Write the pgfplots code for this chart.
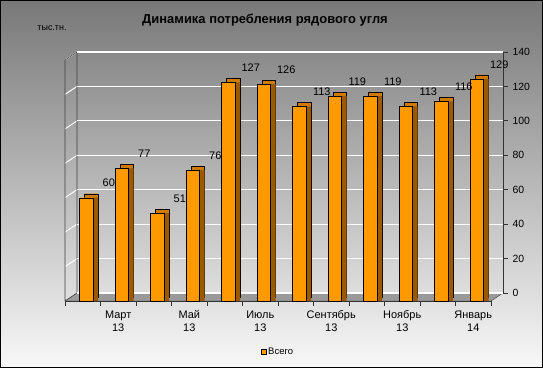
\documentclass[border=0pt]{standalone}
\usepackage{pgfplots}
\pgfplotsset{compat=1.18}
\usepackage{pgfplotstable}
\usepackage{fontspec}
\setmainfont{Liberation Sans}
\definecolor{barfront}{HTML}{FF9900}
\definecolor{barside}{HTML}{9C5A00}
\definecolor{bartop}{HTML}{CC7A00}
\definecolor{bgtop}{HTML}{787878}
\definecolor{bgbot}{HTML}{F8F8F8}
\definecolor{floorc}{HTML}{9A9A9A}

\pgfplotstableread{
x v
1 60
2 77
3 51
4 76
5 127
6 126
7 113
8 119
9 119
10 113
11 116
12 129
}\data

\begin{document}
\begin{tikzpicture}
\shade[top color=bgtop, bottom color=bgbot] (0bp,0bp) rectangle (543bp,368bp);
% floor
\fill[floorc] (65bp,67bp) -- (491bp,67bp) -- (503bp,75bp) -- (77bp,75bp) -- cycle;
\draw[black!70, line width=0.5pt] (65bp,67bp) -- (491bp,67bp) -- (503bp,75bp);
% left wall
\foreach \v in {20,40,...,140} {
  \pgfmathsetmacro{\ya}{67+1.7214*\v}
  \pgfmathsetmacro{\yb}{75+1.7214*\v}
  \draw[white, line width=1pt] (65bp,\ya bp) -- (77bp,\yb bp);
}
\draw[black!75, line width=0.6pt] (65bp,67bp) -- (65bp,308bp) -- (77bp,316bp) -- (77bp,75bp) -- (65bp,67bp);

\begin{axis}[
  at={(77bp,75bp)}, anchor=south west, scale only axis,
  width=426bp, height=241bp,
  xmin=0.5, xmax=12.5, ymin=0, ymax=140,
  axis x line=none, axis y line*=right,
  ytick={0,20,...,140},
  ymajorgrids, grid style={white, line width=1.1pt},
  y axis line style={black!80, line width=0.8pt},
  tick align=outside, major tick length=5bp,
  ytick style={black!80, line width=0.8pt},
  yticklabel style={font=\fontsize{10.5}{12}\selectfont, xshift=1bp},
  /pgf/number format/assume math mode=true,
]
\addplot[draw=none, forget plot] coordinates {(1,0)};
\end{axis}

\begin{axis}[
  at={(65bp,67bp)}, anchor=south west, scale only axis,
  width=426bp, height=241bp,
  xmin=0.5, xmax=12.5, ymin=0, ymax=140,
  axis y line=none, axis x line*=bottom,
  x axis line style={black!80, line width=0.6pt, -},
  xtick={1,...,12},
  xticklabels={,{Март\\13},,{Май\\13},,{Июль\\13},,{Сентябрь\\13},,{Ноябрь\\13},,{Январь\\14}},
  xticklabel style={align=center, font=\fontsize{11}{13}\selectfont, yshift=-6bp},
  major tick length=0pt,
  minor xtick={0.5,1.5,...,12.5},
  minor tick length=5bp, tick align=outside,
  minor tick style={black!80, line width=0.6pt},
  legend style={at={(0.5,-0.212)}, anchor=center, draw=none, fill=none,
    font=\fontsize{9.5}{11}\selectfont, inner sep=1bp},
  legend image code/.code={\draw[fill=barfront, draw=black, line width=0.3pt] (0bp,-2.5bp) rectangle (5bp,2.5bp);},
  /pgf/number format/assume math mode=true,
  clip=false,
]
\addplot[ybar, bar width=13.5bp, bar shift=8.5bp, fill=bartop, draw=black, line width=0.4pt, yshift=4bp, forget plot] table[x=x,y=v] {\data};
\addplot[ybar, bar width=13.5bp, bar shift=8.5bp, fill=barside, draw=none, forget plot] table[x=x,y=v] {\data};
\addplot[ybar, bar width=13.5bp, bar shift=3.5bp, fill=barfront, draw=black, line width=0.4pt] table[x=x,y=v] {\data};
\addlegendentry{Всего}
\addplot[draw=none, mark=none, nodes near coords, point meta=y, forget plot,
  every node near coord/.append style={anchor=center, xshift=26bp, yshift=14.5bp, font=\fontsize{11}{12}\selectfont, black}]
  table[x=x,y=v] {\data};
\end{axis}

\node[font=\bfseries\fontsize{13}{15}\selectfont] at (265bp,348bp) {Динамика потребления рядового угля};
\node[font=\fontsize{9}{11}\selectfont] at (52bp,340bp) {тыс.тн.};
\draw[black, line width=1pt] (0.5bp,0.5bp) rectangle (542.5bp,367.5bp);
\pgfresetboundingbox
\path (0bp,0bp) rectangle (543bp,368bp);
\end{tikzpicture}
\end{document}
